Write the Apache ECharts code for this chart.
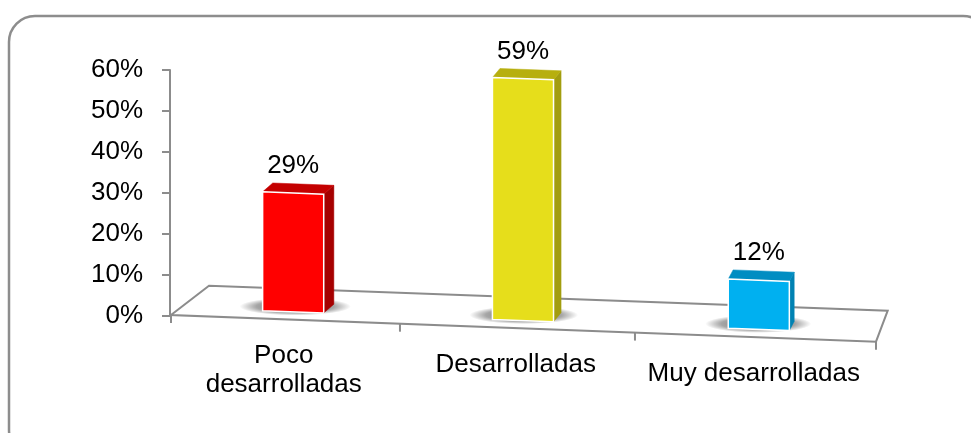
<!DOCTYPE html>
<html><head><meta charset="utf-8">
<script src="https://cdn.jsdelivr.net/npm/echarts@6/dist/echarts.min.js"></script>
<style>html,body{margin:0;padding:0;background:#fff}#c{width:971px;height:433px}</style>
</head><body><div id="c"></div>
<script>
// ---- data ----
const categories = ['Poco\ndesarrolladas', 'Desarrolladas', 'Muy desarrolladas'];
const values = [29, 59, 12];
const valueLabels = ['29%', '59%', '12%'];
const yMin = 0, yMax = 60, yStep = 10;

// ---- styles ----
const frontColors = ['#FF0000', '#E6DE1B', '#00B0F0'];
const sideColors  = ['#A60000', '#A39D0F', '#0082B3'];
const topColors   = ['#C40000', '#B7AF0E', '#008DC2'];
const FONT = '"Liberation Sans", Arial, sans-serif';
const LINE = '#8c8c8c';

// perspective helpers (based on grid rect)
function persp(cs) {
  const L = cs.x, W = cs.width, B = cs.y + cs.height;
  const slope = 0.0379;
  return {
    warp: X => { const t = (X - L) / W; return L + W * (t - 0.0385 * t * (1 - t)); },
    frontY: X => B - 1 + (X - L) * slope,
    depth: X => { const t = (X - L) / W; return [38 - 26.3 * t, -29.3 - 1.7 * t]; },
    slope, L, W, B
  };
}

function renderFloor(params, api) {
  const cs = params.coordSys;
  const P = persp(cs);
  const R = P.L + P.W;
  const FL = [P.L, P.frontY(P.L)], FR = [R, P.frontY(R)];
  const dL = P.depth(P.L), dR = P.depth(R);
  const BL = [FL[0] + dL[0], FL[1] + dL[1]], BR = [FR[0] + dR[0], FR[1] + dR[1]];
  const children = [{
    type: 'polygon', shape: { points: [FL, BL, BR, FR] },
    style: { fill: 'none', stroke: LINE, lineWidth: 2 }
  }];
  const bw = api.size([1, 0])[0];
  for (let k = 0; k <= categories.length; k++) {
    const X = P.warp(P.L + k * bw);
    const y = P.frontY(X);
    children.push({ type: 'line', shape: { x1: X, y1: y, x2: X, y2: y + 8 },
      style: { stroke: LINE, lineWidth: 2 } });
  }
  return { type: 'group', children };
}

function renderBar(params, api) {
  const i = api.value(0), v = api.value(1);
  const cs = params.coordSys;
  const P = persp(cs);
  const base = api.coord([i, 0]);
  const topPt = api.coord([i, v]);
  const h = base[1] - topPt[1];
  const bw = api.size([1, 0])[0];
  const w = bw * 0.26;
  const cx = P.warp(base[0]);
  const dv = P.depth(cx);
  const fx = cx + dv[0] * 0.25;
  const fy = P.frontY(cx) + dv[1] * 0.25;
  const s = P.slope;
  const xl = fx - w / 2, xr = fx + w / 2;
  const ybl = fy - s * w / 2, ybr = fy + s * w / 2;
  const ytl = ybl - h, ytr = ybr - h;
  const bd = [dv[0] * 0.3, dv[1] * 0.3];
  const rx = w / 2 + bd[0] / 2 + 20, ry = 9;
  const scx = fx + bd[0] / 2 - 3, scy = fy + bd[1] / 2 - 1;
  return {
    type: 'group',
    children: [
      { type: 'circle', shape: { cx: scx, cy: scy, r: rx }, scaleY: ry / rx, originX: scx, originY: scy,
        style: { fill: { type: 'radial', x: 0.5, y: 0.5, r: 0.5, colorStops: [
          { offset: 0, color: 'rgba(0,0,0,0.6)' },
          { offset: 0.7, color: 'rgba(0,0,0,0.35)' },
          { offset: 1, color: 'rgba(0,0,0,0)' }] } } },
      { type: 'polygon', shape: { points: [[xr, ytr], [xr + bd[0], ytr + bd[1]], [xr + bd[0], ybr + bd[1]], [xr, ybr]] },
        style: { fill: sideColors[i], stroke: sideColors[i], lineWidth: 0.5 } },
      { type: 'polygon', shape: { points: [[xl, ytl], [xl + bd[0], ytl + bd[1]], [xr + bd[0], ytr + bd[1]], [xr, ytr]] },
        style: { fill: topColors[i], stroke: topColors[i], lineWidth: 0.5 } },
      { type: 'polygon', shape: { points: [[xl, ytl], [xr, ytr], [xr, ybr], [xl, ybl]] },
        style: { fill: frontColors[i], stroke: '#ffffff', lineWidth: 1.5 } },
      { type: 'text', x: fx, y: Math.min(ytl, ytr) + bd[1] - 17,
        style: { text: valueLabels[i], fill: '#000', fontSize: 26, fontFamily: FONT, align: 'center', verticalAlign: 'middle' } },
      { type: 'text', x: cx - 1, y: P.frontY(cx) + 22,
        style: { text: categories[i], fill: '#000', fontSize: 26, lineHeight: 29, fontFamily: FONT, align: 'center', verticalAlign: 'top' } }
    ]
  };
}

const chart = echarts.init(document.getElementById('c'), null, { renderer: 'canvas' });
chart.setOption({
  backgroundColor: '#fff',
  animation: false,
  graphic: [{ type: 'rect', shape: { x: 9, y: 16, width: 980, height: 440, r: 26 },
    style: { fill: 'none', stroke: '#8d8d8d', lineWidth: 2.5 } }],
  grid: { left: 171, right: 95, top: 70, bottom: 117, containLabel: false, outerBoundsMode: 'none' },
  xAxis: { type: 'category', data: categories, show: false, boundaryGap: true },
  yAxis: {
    type: 'value', min: yMin, max: yMax, interval: yStep, offset: 1,
    axisLine: { show: true, lineStyle: { color: LINE, width: 2 } },
    axisTick: { show: true, length: 8, lineStyle: { color: LINE, width: 2 } },
    splitLine: { show: false },
    axisLabel: { formatter: '{value}%', fontSize: 26, color: '#000', fontFamily: FONT, margin: 27 }
  },
  series: [
    { type: 'custom', renderItem: renderFloor, data: [[0, 0]], z: 1, silent: true },
    { type: 'custom', renderItem: renderBar, data: values.map((v, i) => [i, v]), z: 2, silent: true }
  ]
});
</script>
</body></html>
